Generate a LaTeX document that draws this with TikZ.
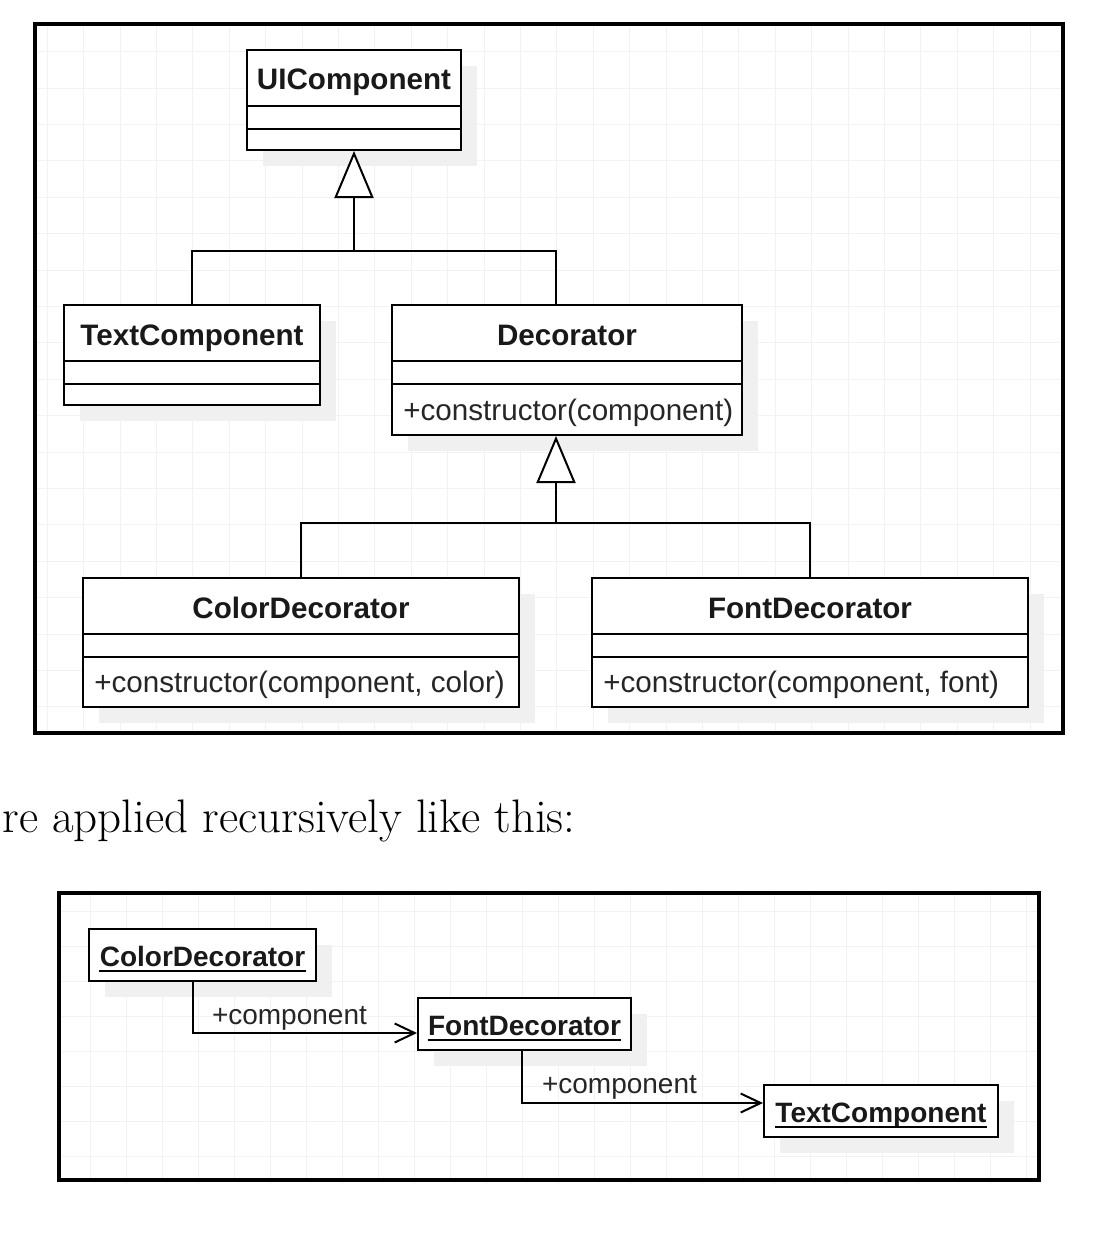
\documentclass[tikz,border=0pt]{standalone}
\usepackage{fontspec}
\newfontfamily\umlfont{Liberation Sans}
\usetikzlibrary{calc,arrows.meta,shadows}
\tikzset{
	gridline/.style={line width=0.5pt, color=black!5},
	frame/.style={line width=1.75pt, color=black},
	classbox/.style={draw, line width=1pt, fill=white, inner sep=0pt,
		drop shadow={shadow xshift=8pt, shadow yshift=-8pt, fill=black!6, opacity=1}},
	classname/.style={anchor=base, inner sep=0pt, font=\umlfont\fontsize{14.8}{17}\selectfont\bfseries, color=black!90},
	member/.style={anchor=base west, inner sep=0pt, font=\umlfont\fontsize{14.8}{17}\selectfont, color=black!85},
	objname/.style={anchor=base, inner sep=0pt, font=\umlfont\fontsize{14}{17}\selectfont\bfseries, color=black!90},
	rolename/.style={anchor=base west, inner sep=0pt, font=\umlfont\fontsize{14}{17}\selectfont, color=black!85},
	inherit/.style={line width=1pt, -{Triangle[open, fill=white, width=19.5pt, length=23.5pt]}},
	assoc/.style={line width=1pt, -{Straight Barb[length=10pt, width=9.5pt]}}
}
\def\umlclass(#1)(#2)(#3:#4)#5{%
	\node[classbox, minimum width=#3, minimum height=#4] (#1) at (#2) {};
	\node[classname] (#1-name) at ([yshift=-20.5pt]#1.north) {#5};
	\draw[line width=1pt] ([yshift=-28.5pt]#1.north west) -- ([yshift=-28.5pt]#1.north east);
	\draw[line width=1pt] ([yshift=-40pt]#1.north west) -- ([yshift=-40pt]#1.north east);
}
\def\umlobject(#1)(#2)(#3)#4{%
	\node[classbox, minimum width=#3, minimum height=26pt] (#1) at (#2) {};
	\node[objname] (#1-name) at ([yshift=-5.5pt]#1.center) {#4};
	\draw[line width=1pt] ([yshift=-2.5pt]#1-name.base west) -- ([yshift=-2.5pt]#1-name.base east);
}
\begin{document}
\begin{tikzpicture}[x=0.5pt, y=-0.5pt]
			%%%%% START %%%%%
			\useasboundingbox (0,0) rectangle (1116,1236);
			\fill[white] (0,0) rectangle (1116,1236);
			
			% class diagram
			\foreach \k in {0,...,27}
				\draw[gridline] ({47.3+36.4*\k},26) -- ({47.3+36.4*\k},731);
			\foreach \k in {0,...,18}
				\draw[gridline] (37,{51.7+36.4*\k}) -- (1061,{51.7+36.4*\k});
			\draw[frame] (35,24) rectangle (1063,733);
			
			\umlclass(ui)(354,100)(107pt:50pt){UIComponent}
			\umlclass(tc)(192,355)(128pt:50pt){TextComponent}
			\umlclass(dec)(567,370)(175pt:65pt){Decorator}
			\umlclass(cd)(301,642.5)(218pt:64.5pt){ColorDecorator}
			\umlclass(fd)(810,642.5)(218pt:64.5pt){FontDecorator}
			
			\node[member] (dec-op) at ([xshift=6pt, yshift=-58pt]dec.north west) {+constructor(component)};
			\node[member] (cd-op) at ([xshift=6pt, yshift=-57.5pt]cd.north west) {+constructor(component, color)};
			\node[member] (fd-op) at ([xshift=6pt, yshift=-57.5pt]fd.north west) {+constructor(component, font)};
			
			\coordinate (dec-n) at ([xshift=-5.5pt]dec.north);
			\coordinate (dec-s) at ([xshift=-5.5pt]dec.south);
			\coordinate (j1) at ($(ui.south)+(0,100)$);
			\coordinate (j2) at ($(dec-s)+(0,87)$);
			
			\draw[inherit] (j1) -- (ui.south);
			\draw[line width=1pt] (tc.north) |- (j1) -| (dec-n);
			\draw[inherit] (j2) -- (dec-s);
			\draw[line width=1pt] (cd.north) |- (j2) -| (fd.north);
			
			% caption
			\node[anchor=base west, inner sep=0pt, font=\fontsize{23.5}{28}\selectfont] (caption) at (2,832) {re applied recursively like this:};
			
			% object diagram
			\foreach \k in {0,...,26}
				\draw[gridline] ({90+36*\k},895) -- ({90+36*\k},1178);
			\foreach \k in {0,...,7}
				\draw[gridline] (61,{911.7+35*\k}) -- (1037,{911.7+35*\k});
			\draw[frame] (59,893) rectangle (1039,1180);
			
			\umlobject(ocd)(202.5,955)(113.5pt){ColorDecorator}
			\umlobject(ofd)(524.5,1024)(106.5pt){FontDecorator}
			\umlobject(otc)(881,1111)(117pt){TextComponent}
			
			\draw[assoc] ([xshift=-4.75pt]ocd.south) |- ([yshift=-4.5pt]ofd.west)
				node[rolename, pos=0.5, xshift=9pt, yshift=4.5pt] {+component};
			\draw[assoc] ([xshift=-1.25pt]ofd.south) |- ([yshift=4pt]otc.west)
				node[rolename, pos=0.5, xshift=9.5pt, yshift=5pt] {+component};
			%%%%% END %%%%%
\end{tikzpicture}
\end{document}
